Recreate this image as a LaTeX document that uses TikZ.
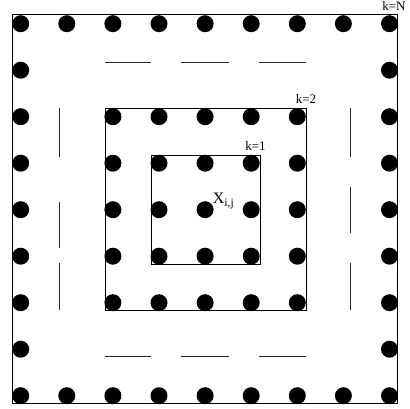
\documentclass[tikz,border=0pt]{standalone}
\usepackage{fontspec}
\setmainfont{Liberation Serif}
\usetikzlibrary{positioning}

\begin{document}
\begin{tikzpicture}[
    x=1pt, y=-1pt,
    frame/.style={draw, line width=1pt},
    gap/.style={draw, line width=0.9pt, black!85},
    pt/.style={circle, fill=black, inner sep=0pt, minimum size=17pt},
    lbl/.style={inner sep=0pt, font=\fontsize{13}{13}\selectfont}]
    \useasboundingbox (0,0) rectangle (410,409);
    % rings k=N, k=2, k=1
    \draw[frame] (12.7,15) rectangle (397.7,403.3);
    \draw[frame] (105,108.3) rectangle (306,310.7);
    \draw[frame] (151,155.7) rectangle (260,264);
    \coordinate (cN) at (397.7,15);
    \coordinate (c2) at (306,108.3);
    \coordinate (c1) at (260,155.7);
    % elided rows and columns
    \foreach \a/\b in {105/151, 181/229, 259/306} {
      \draw[gap] (\a,62.7) -- (\b,62.7);
      \draw[gap] (\a,356.7) -- (\b,356.7);
    }
    \foreach \a/\b in {108/157, 202/248, 263/310}
      \draw[gap] (59,\a) -- (59,\b);
    \foreach \a/\b in {108/157, 187/233, 263/310}
      \draw[gap] (350.7,\a) -- (350.7,\b);
    % grid points
    \foreach \i in {1,...,9} {
      \node[pt] (p-\i-1) at ({20.7+46.1*(\i-1)},23.7) {};
      \node[pt] (p-\i-9) at ({20.7+46.1*(\i-1)},395.7) {};
    }
    \foreach \j in {2,8}
      \foreach \i in {1,9}
        \node[pt] (p-\i-\j) at ({20.7+46.1*(\i-1)},{23.7+46.5*(\j-1)}) {};
    \foreach \j in {3,...,7}
      \foreach \i in {1,3,4,5,6,7,9}
        \node[pt] (p-\i-\j) at ({20.7+46.1*(\i-1)},{23.7+46.5*(\j-1)}) {};
    % labels
    \node[lbl, above=4pt of cN, xshift=-3.7pt] (kN) {k=N};
    \node[lbl, above=4.3pt of c2] (k2) {k=2};
    \node[lbl, above=5pt of c1, xshift=-4.5pt] (k1) {k=1};
    \node[inner sep=0pt, anchor=base west, font=\fontsize{16}{16}\selectfont]
      (xij) at (212.7,203.3) {X\raisebox{-3pt}{\fontsize{11.5}{11.5}\selectfont i,j}};
  \end{tikzpicture}
\end{document}
